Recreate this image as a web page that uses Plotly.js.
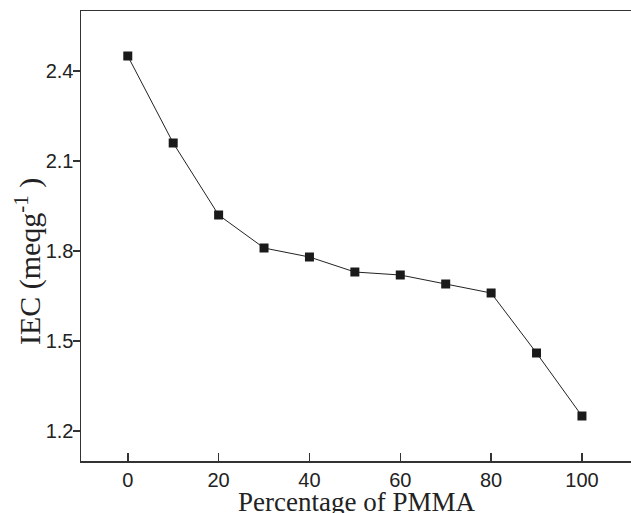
<!DOCTYPE html>
<html>
<head>
<meta charset="utf-8">
<script src="https://cdn.plot.ly/plotly-3.0.1.min.js"></script>
<style>html,body{margin:0;padding:0;background:#fff;}#chart{width:631px;height:513px;}</style>
</head>
<body>
<div id="chart"></div>
<script>
const pmma = [0, 10, 20, 30, 40, 50, 60, 70, 80, 90, 100];
const iec = [2.45, 2.16, 1.92, 1.81, 1.78, 1.73, 1.72, 1.69, 1.66, 1.46, 1.25];
const xTicks = [0, 20, 40, 60, 80, 100];
const yTicks = [1.2, 1.5, 1.8, 2.1, 2.4];

const sans = 'Liberation Sans';
const serif = 'Liberation Serif';

const trace = {
  x: pmma, y: iec, type: 'scatter', mode: 'lines+markers',
  line: {color: '#222', width: 1},
  marker: {symbol: 'square', size: 9, color: '#1a1a1a'},
  showlegend: false, cliponaxis: false
};

const layout = {
  width: 631, height: 513,
  font: {family: sans, size: 20, color: '#222'},
  margin: {l: 81, r: 0, t: 11, b: 52},
  paper_bgcolor: '#fff', plot_bgcolor: '#fff',
  xaxis: {
    range: [-10.3, 110.8], tickmode: 'array', tickvals: xTicks, ticktext: xTicks.map(String),
    ticks: 'inside', ticklen: 8, tickwidth: 1.5, tickcolor: '#333',
    showline: true, linecolor: '#333', linewidth: 1.5, mirror: true,
    showgrid: false, zeroline: false,
    tickfont: {family: sans, size: 20, color: '#222'}
  },
  yaxis: {
    range: [1.1, 2.6], tickmode: 'array', tickvals: yTicks, ticktext: yTicks.map(v => v.toFixed(1)),
    ticks: 'outside', ticklen: 7, tickwidth: 1.5, tickcolor: '#333',
    showline: true, linecolor: '#333', linewidth: 1.5,
    showgrid: false, zeroline: false, ticklabelstandoff: -5,
    tickfont: {family: sans, size: 20, color: '#222'}
  },
  annotations: [
    {text: 'Percentage of PMMA', xref: 'paper', yref: 'paper', x: 0.5, y: 0,
     xanchor: 'center', yanchor: 'top', yshift: -24, showarrow: false,
     font: {family: serif, size: 27, color: '#222'}},
    {text: 'IEC (meqg<sup>-1</sup> )', xref: 'paper', yref: 'paper', x: 0, y: 0.442,
     xanchor: 'center', yanchor: 'middle', xshift: -53, textangle: -90, showarrow: false,
     font: {family: serif, size: 30, color: '#222'}}
  ]
};

Plotly.newPlot('chart', [trace], layout, {displayModeBar: false, staticPlot: true});
</script>
</body>
</html>
